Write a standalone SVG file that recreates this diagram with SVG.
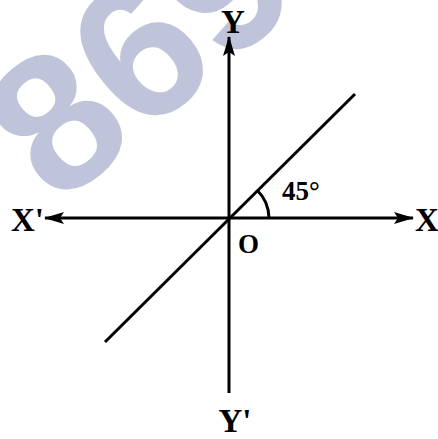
<svg xmlns="http://www.w3.org/2000/svg" width="438" height="439" viewBox="0 0 438 439">
<style>
.ax{stroke:#000;stroke-width:3;fill:none}
.lbl{font-family:"Liberation Serif","Times New Roman",serif;font-weight:bold;fill:#000}
.big{font-size:33px}
.small{font-size:27px}
.wm{font-family:"Liberation Sans",Arial,sans-serif;font-weight:bold;font-size:195px;fill:#c0c4da}
</style>
<defs>
<marker id="ah" viewBox="0 0 20 12" refX="19" refY="6" markerWidth="20" markerHeight="12" markerUnits="userSpaceOnUse" orient="auto">
<path d="M0,0 L20,6 L0,12 L4,6 Z" fill="#000"/>
</marker>
</defs>
<rect width="438" height="439" fill="#fff"/>
<text class="wm" transform="translate(58,208) rotate(-40)">869</text>
<g id="connectors">
<line class="ax" x1="229" y1="218" x2="413" y2="218" marker-end="url(#ah)"/>
<line class="ax" x1="229" y1="218" x2="45" y2="218" marker-end="url(#ah)"/>
<line class="ax" x1="229" y1="393" x2="229" y2="37" marker-end="url(#ah)"/>
<line class="ax" x1="105" y1="342" x2="355" y2="94" stroke-width="2.6"/>
<path class="ax" d="M257,190 A40,40 0 0 1 269,218" stroke-width="2.2"/>
</g>
<g id="label-Y"><text class="lbl big" x="233" y="33" text-anchor="middle">Y</text></g>
<g id="label-Yp"><text class="lbl big" x="235" y="432" text-anchor="middle">Y'</text></g>
<g id="label-Xp"><text class="lbl big" x="11" y="231">X'</text></g>
<g id="label-X"><text class="lbl big" x="415" y="231">X</text></g>
<g id="label-O"><text class="lbl small" x="238" y="253">O</text></g>
<g id="label-45"><text class="lbl small" x="282" y="200">45°</text></g>
</svg>
